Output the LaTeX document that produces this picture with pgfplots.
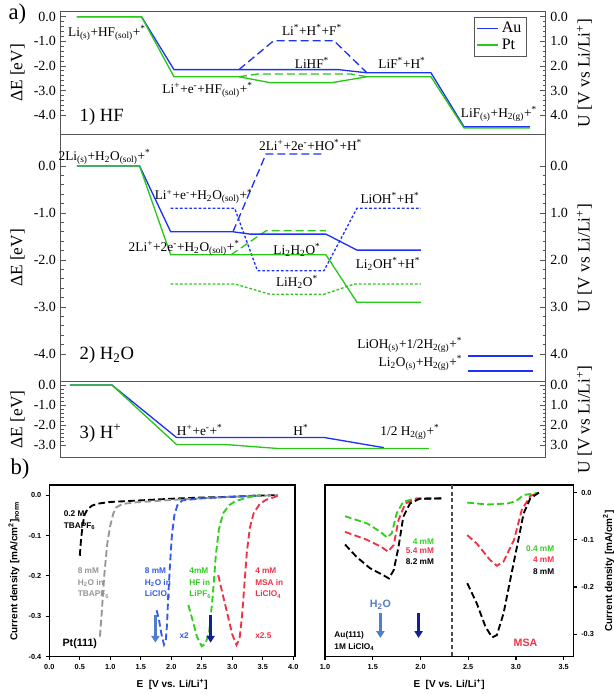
\documentclass[border=0pt]{standalone}
\usepackage{fontspec}
\setmainfont{Liberation Serif}
\setsansfont{Liberation Sans}
\usepackage{pgfplots}
\pgfplotsset{compat=1.18}
\usetikzlibrary{arrows.meta}

\definecolor{cAu}{RGB}{30,50,245}
\definecolor{cPt}{RGB}{40,200,25}
\definecolor{fr}{RGB}{85,85,85}
\definecolor{bgray}{RGB}{150,150,150}
\definecolor{bblue}{RGB}{50,90,235}
\definecolor{bgreen}{RGB}{50,205,30}
\definecolor{bred}{RGB}{240,50,70}
\definecolor{steel}{RGB}{80,125,205}
\definecolor{navy}{RGB}{20,30,150}

\newcommand\lbl{\fontsize{10}{11}\selectfont}
\newcommand\ttl{\fontsize{14}{15}\selectfont}
\newcommand\bft{\sffamily\bfseries\fontsize{6.2}{8.6}\selectfont}
\newcommand\Sb{\textsubscript}
\newcommand\Sp{\textsuperscript}

\pgfplotsset{
  panelA/.style={
    scale only axis, anchor=north west, width=363.75pt,
    xmin=60.7, xmax=545.7, xtick=\empty,
    axis line style={fr, line width=0.7pt},
    ytick pos=left, minor y tick num=4,
    major tick length=4pt, minor tick length=2.2pt,
    tick style={fr, line width=0.6pt},
    yticklabel style={/pgf/number format/fixed, /pgf/number format/fixed zerofill,
      /pgf/number format/precision=1, /pgf/number format/assume math mode=true},
    tick label style={font=\fontsize{10.5}{12}\selectfont},
    label style={font=\fontsize{13}{14}\selectfont},
    clip=false,
  },
  panelAR/.style={panelA, y dir=reverse, axis y line*=right, hide x axis,
    ytick pos=right, yticklabel pos=right},
  Au/.style={cAu, line width=1pt},
  Pt/.style={cPt, line width=1pt},
  ld/.style={dash pattern=on 6pt off 3pt},
  sd/.style={dash pattern=on 2pt off 1.5pt},
  panelB/.style={
    scale only axis, anchor=north west, height=128.8pt,
    axis line style={black, line width=1.1pt},
    tick align=outside, major tick length=2.5pt,
    tick style={black, line width=0.8pt},
    xticklabel style={/pgf/number format/fixed, /pgf/number format/fixed zerofill,
      /pgf/number format/precision=1, /pgf/number format/assume math mode=true},
    yticklabel style={/pgf/number format/fixed, /pgf/number format/fixed zerofill,
      /pgf/number format/precision=1, /pgf/number format/assume math mode=true},
    tick label style={font=\sffamily\bfseries\fontsize{5.5}{6}\selectfont},
    label style={font=\sffamily\bfseries\fontsize{7.5}{8}\selectfont},
    xtick pos=bottom,
    xlabel={E\ \ [V vs. Li/Li\Sp{+}]},
    clip=false,
  },
  bd/.style={line width=1.4pt, dash pattern=on 5pt off 2.5pt},
}

\begin{document}
\begin{tikzpicture}
\path[use as bounding box] (0,0) rectangle (460.5pt,-520.5pt);
\node[font=\fontsize{17}{18}\selectfont] at (13pt,-10.5pt) {a)};
\node[font=\fontsize{17}{18}\selectfont] at (15pt,-352pt) {b)};

% ---------- 1) HF
\begin{axis}[panelA, at={(45.5pt,-8.78pt)}, height=91.95pt,
  ymin=-4.78, ymax=0.203, ytick={-4,-3,-2,-1,0}, ylabel={ΔE [eV]},
  legend style={at={(0.96,0.955)}, anchor=north east, draw=fr, fill=white,
    font=\fontsize{12}{12}\selectfont, inner sep=1.5pt, row sep=-1pt},
  legend cell align=left,
  legend image code/.code={\draw[#1] (0pt,0pt) -- (16pt,0pt);}]
\addplot[Au] coordinates {(77,0) (141.5,0) (174,-2.15) (338,-2.15) (367,-2.28) (431,-2.28) (464,-4.47) (530,-4.47)};
\addlegendentry{Au}
\addplot[Pt] coordinates {(77,0) (141.5,0) (174,-2.44) (239,-2.44) (270,-2.68) (332,-2.68) (367,-2.44) (431,-2.44) (464,-4.52) (530,-4.52)};
\addlegendentry{Pt}
\addplot[Pt, ld, forget plot] coordinates {(239,-2.44) (258,-2.33) (351,-2.33) (367,-2.44)};
\addplot[Au, ld, forget plot] coordinates {(239,-2.15) (273.6,-0.98) (334,-0.98) (367,-2.28)};
\node[font=\lbl] at (axis cs:107,-0.66) {Li\Sb{(s)}+HF\Sb{(sol)}+\Sp{*}};
\node[font=\lbl] at (axis cs:312,-0.54) {Li\Sp{*}+H\Sp{*}+F\Sp{*}};
\node[font=\lbl] at (axis cs:312,-1.88) {LiHF\Sp{*}};
\node[font=\lbl] at (axis cs:402,-1.88) {LiF\Sp{*}+H\Sp{*}};
\node[font=\lbl] at (axis cs:207.6,-2.98) {Li\Sp{+}+e\Sp{-}+HF\Sb{(sol)}+\Sp{*}};
\node[font=\lbl] at (axis cs:499,-3.96) {LiF\Sb{(s)}+H\Sb{2(g)}+\Sp{*}};
\node[font=\ttl, anchor=west] at (axis cs:75,-4.08) {1) HF};
\end{axis}
\begin{axis}[panelAR, at={(45.5pt,-8.78pt)}, height=91.95pt,
  ymin=-0.203, ymax=4.78, ytick={0,1,2,3,4}, ylabel={U [V vs Li/Li\Sp{+}]}]
\addplot[draw=none] coordinates {(100,0)};
\end{axis}

% ---------- 2) H2O
\begin{axis}[panelA, at={(45.5pt,-100.7pt)}, height=185.55pt,
  ymin=-4.589, ymax=0.674, ytick={-4,-3,-2,-1,0}, ylabel={ΔE [eV]}]
\addplot[Pt, sd] coordinates {(170.7,-2.51) (234.7,-2.51) (270,-2.73) (324,-2.73) (355,-2.51) (421,-2.51)};
\addplot[Au, sd] coordinates {(170.7,-0.90) (234.7,-0.90) (257.5,-2.23) (324,-2.23) (357,-0.90) (421,-0.90)};
\addplot[Au, ld] coordinates {(233,-1.40) (266,0.255) (324,0.255)};
\addplot[Pt, ld] coordinates {(231,-1.89) (266,-1.38) (326,-1.38)};
\addplot[Au] coordinates {(77,0) (139.6,0) (170.7,-1.40) (233,-1.40) (250,-1.45) (326,-1.45) (357,-1.79) (421,-1.79)};
\addplot[Pt] coordinates {(77,0) (139.6,0) (170.7,-1.89) (326,-1.89) (357,-2.90) (421,-2.90)};
\addplot[Au] coordinates {(468,-4.04) (533,-4.04)};
\addplot[Au] coordinates {(468,-4.36) (533,-4.36)};
\node[font=\lbl] at (axis cs:104.6,0.20) {2Li\Sb{(s)}+H\Sb{2}O\Sb{(sol)}+\Sp{*}};
\node[font=\lbl] at (axis cs:310.6,0.45) {2Li\Sp{+}+2e\Sp{-}+HO\Sp{*}+H\Sp{*}};
\node[font=\lbl] at (axis cs:203.7,-0.65) {Li\Sp{+}+e\Sp{-}+H\Sb{2}O\Sb{(sol)}+\Sp{*}};
\node[font=\lbl] at (axis cs:390,-0.69) {LiOH\Sp{*}+H\Sp{*}};
\node[font=\lbl] at (axis cs:184.3,-1.75) {2Li\Sp{+}+2e\Sp{-}+H\Sb{2}O\Sb{(sol)}+\Sp{*}};
\node[font=\lbl] at (axis cs:297,-1.79) {Li\Sb{2}H\Sb{2}O\Sp{*}};
\node[font=\lbl] at (axis cs:388,-2.09) {Li\Sb{2}OH\Sp{*}+H\Sp{*}};
\node[font=\lbl] at (axis cs:297,-2.46) {LiH\Sb{2}O\Sp{*}};
\node[font=\lbl, anchor=east] at (axis cs:467,-3.81) {LiOH\Sb{(s)}+1/2H\Sb{2(g)}+\Sp{*}};
\node[font=\lbl, anchor=east] at (axis cs:467,-4.19) {Li\Sb{2}O\Sb{(s)}+H\Sb{2(g)}+\Sp{*}};
\node[font=\ttl, anchor=west] at (axis cs:75,-4.02) {2) H\Sb{2}O};
\end{axis}
\begin{axis}[panelAR, at={(45.5pt,-100.7pt)}, height=185.55pt,
  ymin=-0.674, ymax=4.589, ytick={0,1,2,3,4}, ylabel={U [V vs Li/Li\Sp{+}]}]
\addplot[draw=none] coordinates {(100,0)};
\end{axis}

% ---------- 3) H+
\begin{axis}[panelA, at={(45.5pt,-286.3pt)}, height=56.5pt,
  ymin=-3.6, ymax=0.165, ytick={-3,-2,-1,0}, ylabel={ΔE [eV]}]
\addplot[Au] coordinates {(70,0) (112,0) (176.5,-2.62) (324,-2.62) (384,-3.13)};
\addplot[Pt] coordinates {(70,0) (112,0) (176.5,-2.97) (225,-2.97) (277.5,-3.17) (429,-3.17)};
\node[font=\lbl] at (axis cs:199.8,-2.25) {H\Sp{+}+e\Sp{-}+\Sp{*}};
\node[font=\lbl] at (axis cs:301,-2.25) {H\Sp{*}};
\node[font=\lbl] at (axis cs:410,-2.33) {1/2 H\Sb{2(g)}+\Sp{*}};
\node[font=\ttl, anchor=west] at (axis cs:75,-2.4) {3) H\Sp{+}};
\end{axis}
\begin{axis}[panelAR, at={(45.5pt,-286.3pt)}, height=56.5pt,
  ymin=-0.165, ymax=3.6, ytick={0,1,2,3}, ylabel={U [V vs Li/Li\Sp{+}]}]
\addplot[draw=none] coordinates {(100,0)};
\end{axis}

% ---------- b) left: Pt(111)
\begin{axis}[panelB, at={(37pt,-363.75pt)}, width=184.3pt,
  xmin=0, xmax=4.03, ymin=-0.4, ymax=0.025,
  xtick={0,0.5,1,1.5,2,2.5,3,3.5,4}, ytick={-0.4,-0.3,-0.2,-0.1,0},
  ytick pos=left,
  ylabel={Current density [mA/cm\Sp{2}]\Sb{norm}}]
\addplot[black, bd] coordinates {(0.50,-0.150) (0.52,-0.11) (0.55,-0.07) (0.58,-0.048) (0.62,-0.036) (0.70,-0.026) (0.80,-0.021) (1.00,-0.017) (1.50,-0.013) (2.00,-0.009) (2.50,-0.006) (3.00,-0.004) (3.50,-0.001) (3.75,0.0)};
\addplot[bgray, bd] coordinates {(0.83,-0.350) (0.86,-0.29) (0.90,-0.20) (0.95,-0.12) (1.00,-0.075) (1.05,-0.045) (1.10,-0.030) (1.20,-0.022) (1.40,-0.018) (1.80,-0.014) (2.20,-0.010) (2.60,-0.007) (3.00,-0.004) (3.40,-0.002) (3.75,0.0)};
\addplot[bblue, bd] coordinates {(1.76,-0.285) (1.80,-0.31) (1.84,-0.345) (1.88,-0.370) (1.91,-0.36) (1.93,-0.32) (1.95,-0.25) (1.98,-0.17) (2.01,-0.10) (2.05,-0.05) (2.10,-0.025) (2.18,-0.013) (2.50,-0.008) (3.00,-0.004) (3.40,-0.001)};
\addplot[bgreen, bd] coordinates {(2.28,-0.272) (2.35,-0.31) (2.42,-0.350) (2.50,-0.374) (2.56,-0.368) (2.62,-0.34) (2.68,-0.25) (2.73,-0.15) (2.78,-0.085) (2.85,-0.045) (2.95,-0.025) (3.05,-0.015) (3.25,-0.006) (3.45,0.0)};
\addplot[bred, bd] coordinates {(2.77,-0.198) (2.85,-0.25) (2.93,-0.30) (3.00,-0.345) (3.07,-0.371) (3.12,-0.355) (3.16,-0.30) (3.20,-0.22) (3.24,-0.14) (3.29,-0.08) (3.35,-0.045) (3.45,-0.022) (3.55,-0.012) (3.75,-0.002)};
\draw[steel, line width=2.2pt, -{Triangle[width=6pt,length=5pt]}] (axis cs:1.74,-0.297) -- (axis cs:1.74,-0.365);
\draw[navy, line width=2.2pt, -{Triangle[width=6pt,length=5pt]}] (axis cs:2.645,-0.297) -- (axis cs:2.645,-0.365);
\node[font=\bft, align=left, anchor=west] at (axis cs:0.16,-0.062) {0.2 M\\TBAPF\Sb{6}};
\node[font=\bft, bgray, align=left, anchor=west] at (axis cs:0.39,-0.218) {8 mM\\H\Sb{2}O in\\TBAPF\Sb{6}};
\node[font=\bft, bblue, align=left, anchor=west] at (axis cs:1.49,-0.218) {8 mM\\H\Sb{2}O in\\LiClO\Sb{4}};
\node[font=\bft, bgreen, align=left, anchor=west] at (axis cs:2.22,-0.218) {4mM\\HF in\\LiPF\Sb{6}};
\node[font=\bft, bred, align=left, anchor=west] at (axis cs:3.30,-0.218) {4 mM\\MSA in\\LiClO\Sb{4}};
\node[font=\bft, bblue, anchor=west] at (axis cs:2.06,-0.347) {x2};
\node[font=\bft, bred, anchor=west] at (axis cs:3.30,-0.347) {x2.5};
\node[font=\sffamily\bfseries\fontsize{8}{9}\selectfont] at (axis cs:0.50,-0.367) {Pt(111)};
\end{axis}

% ---------- b) right: Au(111)
\begin{axis}[panelB, at={(243.75pt,-363.75pt)}, width=186.2pt,
  xmin=1.0, xmax=3.60, ymin=-0.348, ymax=0.0163,
  xtick={1,1.5,2,2.5,3,3.5}, ytick={-0.3,-0.2,-0.1,0},
  ytick pos=right, yticklabel pos=right,
  ylabel={Current density [mA/cm\Sp{2}]}]
\draw[black!70, line width=0.9pt, dash pattern=on 3pt off 2pt] (axis cs:2.33,0.0163) -- (axis cs:2.33,-0.348);
\addplot[bgreen, bd] coordinates {(1.21,-0.050) (1.44,-0.065) (1.58,-0.083) (1.65,-0.095) (1.70,-0.086) (1.75,-0.044) (1.82,-0.019) (1.96,-0.012) (2.24,-0.012)};
\addplot[bred, bd] coordinates {(1.21,-0.083) (1.44,-0.100) (1.59,-0.115) (1.66,-0.125) (1.72,-0.111) (1.77,-0.058) (1.84,-0.023) (1.96,-0.013) (2.24,-0.012)};
\addplot[black, bd] coordinates {(1.21,-0.110) (1.33,-0.136) (1.47,-0.160) (1.61,-0.175) (1.67,-0.182) (1.72,-0.164) (1.77,-0.115) (1.82,-0.051) (1.89,-0.023) (1.99,-0.013) (2.24,-0.012)};
\addplot[bgreen, bd] coordinates {(2.49,-0.021) (2.70,-0.025) (2.91,-0.023) (3.00,-0.018) (3.08,-0.005) (3.24,0.0)};
\addplot[bred, bd] coordinates {(2.49,-0.090) (2.59,-0.108) (2.73,-0.143) (2.80,-0.155) (2.87,-0.146) (2.98,-0.100) (3.06,-0.037) (3.15,-0.007) (3.24,0.0)};
\addplot[black, bd] coordinates {(2.49,-0.192) (2.59,-0.235) (2.68,-0.284) (2.75,-0.307) (2.80,-0.302) (2.87,-0.256) (2.94,-0.185) (3.01,-0.115) (3.08,-0.044) (3.15,-0.012) (3.24,0.0)};
\draw[steel, line width=2.2pt, -{Triangle[width=6pt,length=5pt]}] (axis cs:1.58,-0.256) -- (axis cs:1.58,-0.308);
\draw[navy, line width=2.2pt, -{Triangle[width=6pt,length=5pt]}] (axis cs:1.98,-0.256) -- (axis cs:1.98,-0.308);
\node[font=\bft, bgreen, anchor=east] at (axis cs:2.19,-0.104) {4 mM};
\node[font=\bft, bred, anchor=east] at (axis cs:2.19,-0.123) {5.4 mM};
\node[font=\bft, black, anchor=east] at (axis cs:2.19,-0.147) {8.2 mM};
\node[font=\bft, bgreen, anchor=east] at (axis cs:3.45,-0.118) {0.4 mM};
\node[font=\bft, bred, anchor=east] at (axis cs:3.45,-0.143) {4 mM};
\node[font=\bft, black, anchor=east] at (axis cs:3.45,-0.168) {8 mM};
\node[font=\sffamily\bfseries\fontsize{8}{9}\selectfont, steel] at (axis cs:1.58,-0.238) {H\Sb{2}O};
\node[font=\bft, align=left, anchor=west] at (axis cs:1.05,-0.315) {Au(111)\\1M LiClO\Sb{4}};
\node[font=\sffamily\bfseries\fontsize{8}{9}\selectfont, bred] at (axis cs:3.10,-0.318) {MSA};
\end{axis}
\end{tikzpicture}
\end{document}
